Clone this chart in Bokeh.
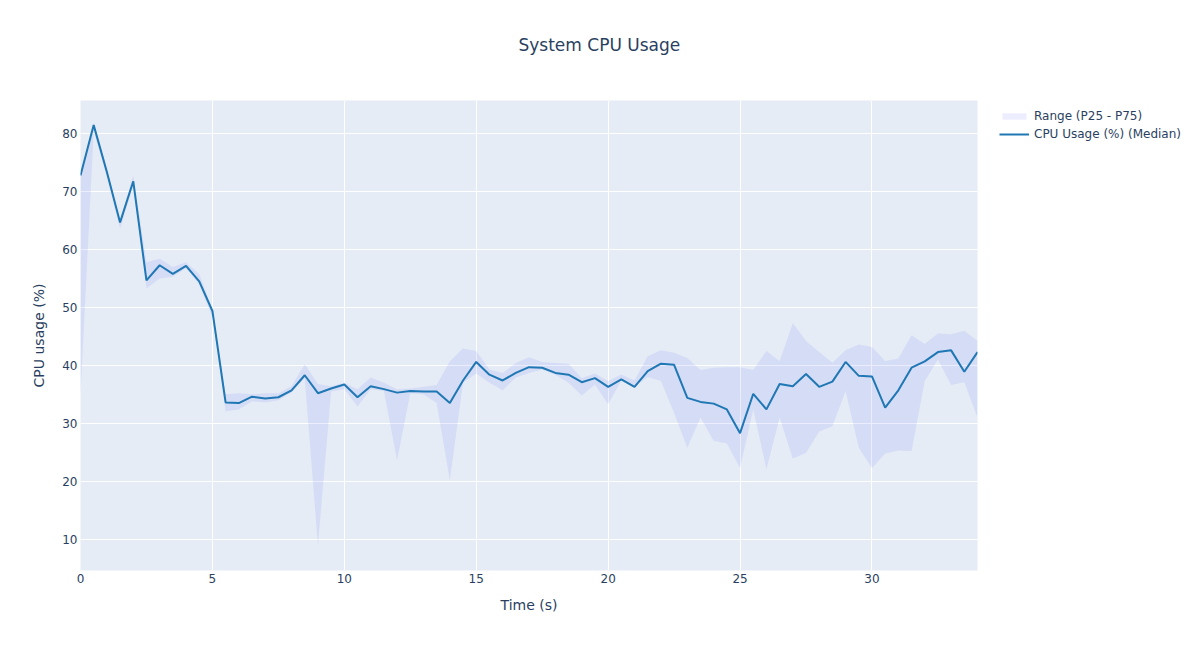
from bokeh.plotting import figure
from bokeh.models import Legend, LegendItem, FixedTicker, Range1d, ColumnDataSource, Title
from bokeh.embed import file_html
from bokeh.resources import INLINE

time_s = [0.0, 0.5, 1.0, 1.5, 2.0, 2.5, 3.0, 3.5, 4.0, 4.5, 5.0, 5.5, 6.0, 6.5, 7.0, 7.5,
          8.0, 8.5, 9.0, 9.5, 10.0, 10.5, 11.0, 11.5, 12.0, 12.5, 13.0, 13.5, 14.0, 14.5,
          15.0, 15.5, 16.0, 16.5, 17.0, 17.5, 18.0, 18.5, 19.0, 19.5, 20.0, 20.5, 21.0,
          21.5, 22.0, 22.5, 23.0, 23.5, 24.0, 24.5, 25.0, 25.5, 26.0, 26.5, 27.0, 27.5,
          28.0, 28.5, 29.0, 29.5, 30.0, 30.5, 31.0, 31.5, 32.0, 32.5, 33.0, 33.5, 34.0]

cpu_median = [72.8, 81.5, 73.4, 64.7, 71.8, 54.7, 57.3, 55.8, 57.2, 54.5, 49.4, 33.6, 33.5,
              34.6, 34.3, 34.5, 35.7, 38.3, 35.2, 36.0, 36.7, 34.5, 36.4, 35.9, 35.3, 35.6,
              35.5, 35.5, 33.5, 37.4, 40.6, 38.4, 37.4, 38.7, 39.7, 39.6, 38.7, 38.4, 37.1,
              37.8, 36.3, 37.6, 36.3, 39.0, 40.3, 40.1, 34.4, 33.7, 33.4, 32.4, 28.3, 35.1,
              32.4, 36.8, 36.4, 38.5, 36.3, 37.2, 40.6, 38.2, 38.1, 32.7, 35.7, 39.6, 40.7,
              42.3, 42.6, 38.9, 42.3]

cpu_p25 = [35.0, 80.5, 72.5, 63.6, 71.0, 53.3, 55.0, 55.3, 56.8, 54.0, 48.3, 32.1, 32.4,
           33.8, 33.6, 34.0, 35.3, 37.8, 9.0, 35.5, 35.9, 32.9, 35.9, 35.6, 23.6, 35.2,
           35.0, 33.5, 20.2, 37.0, 38.6, 37.0, 35.7, 37.9, 38.7, 39.3, 38.4, 37.0, 34.8,
           36.7, 33.3, 37.4, 36.3, 38.0, 37.3, 31.8, 25.8, 31.0, 27.0, 26.5, 22.3, 32.4,
           22.1, 31.0, 23.9, 24.9, 28.6, 29.5, 35.6, 25.8, 22.3, 24.8, 25.3, 25.2, 37.3,
           41.0, 36.6, 37.1, 31.0]

cpu_p75 = [73.5, 81.8, 74.0, 65.0, 72.8, 57.8, 58.4, 57.0, 57.8, 55.8, 49.6, 35.0, 35.2,
           35.0, 35.2, 35.2, 36.4, 40.2, 36.8, 36.4, 37.0, 35.9, 37.9, 37.0, 35.9, 36.0,
           36.3, 36.6, 40.7, 42.9, 42.5, 39.3, 38.7, 40.4, 41.4, 40.6, 40.4, 40.3, 37.8,
           38.6, 37.3, 38.45, 37.4, 41.6, 42.6, 42.2, 41.3, 39.2, 39.6, 39.7, 39.7, 39.2,
           42.5, 40.7, 47.3, 44.2, 42.3, 40.45, 42.6, 43.6, 43.2, 40.75, 41.2, 45.2, 43.7,
           45.5, 45.4, 46.0, 44.2]

x_ticks = [0, 5, 10, 15, 20, 25, 30]
y_ticks = [10, 20, 30, 40, 50, 60, 70, 80]

FONT = "DejaVu Sans"
TXT = "#2a3f5f"

source = ColumnDataSource(dict(t=time_s, med=cpu_median, lo=cpu_p25, hi=cpu_p75))

p = figure(frame_width=897, frame_height=470, output_backend="svg", toolbar_location=None,
           x_range=Range1d(0, 34), y_range=Range1d(4.58, 85.75),
           min_border_left=80, min_border_right=207, min_border_top=100, min_border_bottom=64,
           background_fill_color="#E5ECF6", border_fill_color="white", outline_line_color=None)

# trailing blank line reserves height so the title can sit higher above the frame
p.title = Title(text="System CPU Usage\n", align="left", offset=438, standoff=48,
                vertical_align="top",
                text_font_size="17px", text_font=FONT, text_color=TXT, text_font_style="normal")

band = p.varea(x="t", y1="lo", y2="hi", source=source, fill_color="#636efa", fill_alpha=0.12)
line = p.line(x="t", y="med", source=source, line_color="#1f77b4", line_width=2)

for ax in (p.xaxis[0], p.yaxis[0]):
    ax.axis_line_color = None
    ax.major_tick_line_color = None
    ax.minor_tick_line_color = None
    ax.major_tick_in = 0
    ax.major_tick_out = 0
    ax.major_label_text_font = FONT
    ax.major_label_text_font_size = "12px"
    ax.major_label_text_color = TXT
    ax.axis_label_text_font = FONT
    ax.axis_label_text_font_size = "14px"
    ax.axis_label_text_font_style = "normal"
    ax.axis_label_text_color = TXT

p.xaxis.axis_label = "Time (s)"
p.yaxis.axis_label = "CPU usage (%)"
p.xaxis.ticker = FixedTicker(ticks=x_ticks)
p.yaxis.ticker = FixedTicker(ticks=y_ticks)
p.xaxis.major_label_standoff = 3
p.yaxis.major_label_standoff = 3
p.xaxis.axis_label_standoff = 11
p.yaxis.axis_label_standoff = 12

p.xgrid.grid_line_color = "white"
p.ygrid.grid_line_color = "white"
p.xgrid.grid_line_width = 1
p.ygrid.grid_line_width = 1

legend = Legend(items=[LegendItem(label="Range (P25 - P75)", renderers=[band]),
                       LegendItem(label="CPU Usage (%) (Median)", renderers=[line])],
                location=(22, 428), orientation="vertical",
                label_text_font=FONT, label_text_font_size="12px", label_text_color=TXT,
                glyph_width=30, glyph_height=8, label_height=16, spacing=2,
                padding=5, margin=0, label_standoff=5,
                background_fill_color="white", background_fill_alpha=1.0,
                border_line_color=None)
p.add_layout(legend, "right")

open("out.html", "w").write(file_html(p, INLINE))
